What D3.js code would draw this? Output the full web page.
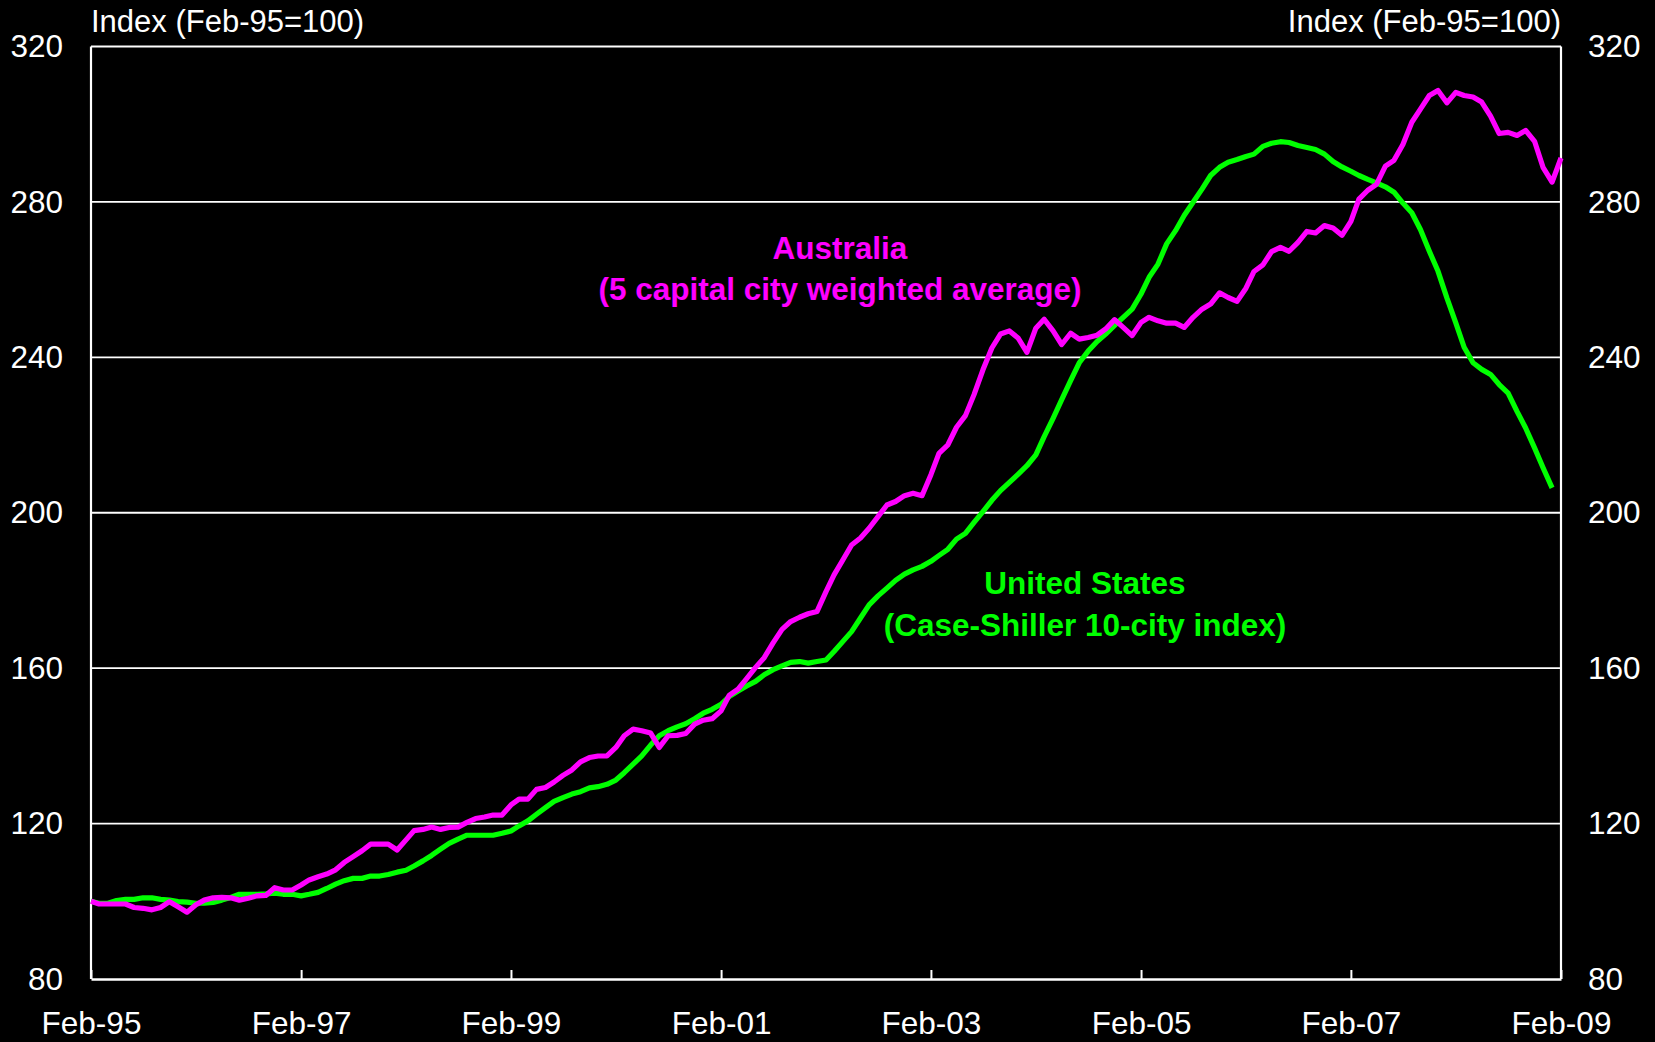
<!DOCTYPE html>
<html>
<head>
<meta charset="utf-8">
<script src="https://cdn.jsdelivr.net/npm/d3@7"></script>
<style>
  html, body { margin: 0; padding: 0; background: #000; }
  svg { display: block; }
  text { font-family: "Liberation Sans", Arial, sans-serif; }
</style>
</head>
<body>
<svg id="chart" width="1655" height="1042"></svg>
<script>
// ---- Data (monthly, starting Feb-1995) ----
const startMonth = "1995-02";
const australia = [
  100.0, 99.3, 99.3, 99.3, 99.3, 98.4, 98.2, 97.8, 98.4, 99.9, 98.6, 97.2,
  99.1, 100.3, 100.9, 101.0, 100.9, 100.3, 100.8, 101.4, 101.5, 103.5, 102.9, 102.9,
  104.2, 105.5, 106.3, 107.0, 108.1, 110.0, 111.5, 113.0, 114.7, 114.7, 114.7, 113.2,
  115.8, 118.2, 118.5, 119.1, 118.5, 119.0, 119.1, 120.3, 121.3, 121.7, 122.2, 122.2,
  124.8, 126.3, 126.3, 128.8, 129.3, 130.7, 132.4, 133.8, 135.9, 137.0, 137.4, 137.4,
  139.6, 142.6, 144.3, 143.9, 143.3, 139.6, 142.6, 142.7, 143.2, 145.6, 146.6, 147.0,
  149.0, 153.0, 154.6, 157.3, 160.2, 162.7, 166.5, 170.0, 172.0, 173.1, 174.0, 174.6,
  179.7, 184.0, 187.9, 191.7, 193.5, 196.0, 199.0, 202.0, 202.9, 204.4, 205.0, 204.4,
  209.8, 215.3, 217.5, 222.0, 225.0, 230.4, 236.8, 242.4, 246.0, 246.8, 245.0, 241.3,
  247.5, 249.8, 246.8, 243.3, 246.2, 244.7, 245.1, 245.7, 247.3, 249.7, 247.7, 245.6,
  249.0, 250.3, 249.4, 248.8, 248.8, 247.7, 250.3, 252.4, 253.7, 256.6, 255.4, 254.4,
  257.8, 262.1, 263.8, 267.2, 268.3, 267.3, 269.6, 272.4, 272.0, 273.9, 273.3, 271.4,
  275.0, 280.7, 283.0, 284.5, 289.2, 290.7, 294.8, 300.5, 303.9, 307.4, 308.7, 305.5,
  308.2, 307.4, 307.0, 305.7, 302.1, 297.6, 297.9, 297.1, 298.4, 295.6, 288.8, 285.1,
  291.3
];
const unitedStates = [
  100.0, 99.5, 99.5, 100.2, 100.5, 100.5, 100.9, 100.9, 100.5, 100.3, 99.9, 99.8,
  99.5, 99.5, 99.7, 100.3, 101.0, 101.8, 101.8, 101.8, 101.9, 102.1, 101.8, 101.8,
  101.4, 101.8, 102.3, 103.3, 104.4, 105.3, 105.9, 105.9, 106.5, 106.5, 106.9, 107.5,
  108.0, 109.1, 110.4, 111.8, 113.4, 114.9, 116.0, 117.0, 117.0, 117.0, 117.0, 117.5,
  118.1, 119.4, 120.7, 122.4, 124.1, 125.7, 126.7, 127.6, 128.2, 129.2, 129.5, 130.1,
  131.2, 133.1, 135.3, 137.4, 140.2, 142.6, 143.9, 144.9, 145.7, 147.0, 148.4, 149.4,
  150.7, 152.7, 154.1, 155.4, 156.6, 158.3, 159.6, 160.6, 161.5, 161.7, 161.3, 161.7,
  162.1, 164.3, 166.9, 169.4, 172.9, 176.3, 178.6, 180.6, 182.6, 184.2, 185.3, 186.2,
  187.5, 189.0, 190.6, 193.2, 194.7, 197.5, 200.3, 203.2, 205.7, 207.8, 209.9, 212.1,
  214.9, 219.6, 224.3, 229.1, 234.0, 238.6, 241.6, 244.1, 246.0, 248.2, 250.3, 252.4,
  256.3, 260.6, 264.0, 269.2, 272.6, 276.5, 279.9, 283.3, 286.8, 288.9, 290.2, 290.9,
  291.7, 292.3, 294.3, 295.1, 295.5, 295.3, 294.5, 294.0, 293.5, 292.3, 290.4, 289.0,
  287.9, 286.8, 285.8, 284.9, 283.9, 282.5, 279.7, 277.2, 272.9, 267.3, 262.2, 255.3,
  248.9, 242.6, 238.6, 236.9, 235.6, 233.0, 230.8, 226.1, 221.8, 216.7, 211.5, 206.4
];
const xTickLabels = ["Feb-95", "Feb-97", "Feb-99", "Feb-01", "Feb-03", "Feb-05", "Feb-07", "Feb-09"];
const yTicks = [80, 120, 160, 200, 240, 280, 320];
const axisTitle = "Index (Feb-95=100)";
const ausLabel = ["Australia", "(5 capital city weighted average)"];
const usLabel = ["United States", "(Case-Shiller 10-city index)"];

// ---- Layout ----
const L = 91, R = 1561, T = 46.5, B = 979;
const FS = 31.5;
const svg = d3.select("#chart");
const parseMonth = d3.timeParse("%Y-%m");
const start = parseMonth(startMonth);
const parseTick = d3.timeParse("%b-%y");
const tickDates = xTickLabels.map(s => parseTick(s));

const x = d3.scaleTime().domain([tickDates[0], tickDates[tickDates.length - 1]]).range([L, R]);
const y = d3.scaleLinear().domain([80, 320]).range([B, T]);

const toPoints = arr => arr.map((v, i) => ({ date: d3.timeMonth.offset(start, i), v }));

svg.append("rect").attr("width", 1655).attr("height", 1042).attr("fill", "#000");

// gridlines
svg.append("g").selectAll("line").data(yTicks.filter(t => t > 80)).join("line")
  .attr("x1", L).attr("x2", R)
  .attr("y1", d => y(d)).attr("y2", d => y(d))
  .attr("stroke", "#fff").attr("stroke-width", 1.9);

// frame: left & right vertical
svg.append("line").attr("x1", L).attr("x2", L).attr("y1", T).attr("y2", B)
  .attr("stroke", "#fff").attr("stroke-width", 2.2);
svg.append("line").attr("x1", R).attr("x2", R).attr("y1", T).attr("y2", B)
  .attr("stroke", "#fff").attr("stroke-width", 2.2);

// bottom axis
const xAxis = d3.axisBottom(x).tickValues(tickDates)
  .tickFormat((d, i) => xTickLabels[i])
  .tickSizeInner(-9).tickSizeOuter(0).tickPadding(0);
const gx = svg.append("g").attr("transform", `translate(0,${B})`).call(xAxis);
gx.select(".domain").attr("stroke", "#fff").attr("stroke-width", 2.4);
gx.selectAll(".tick line").attr("stroke", "#fff").attr("stroke-width", 2);
gx.selectAll(".tick text").attr("fill", "#fff").attr("font-size", FS)
  .attr("font-family", "'Liberation Sans', Arial, sans-serif")
  .attr("dy", null).attr("y", 55);

// left axis labels
const yLeft = d3.axisLeft(y).tickValues(yTicks).tickSize(0).tickPadding(28);
const gyl = svg.append("g").attr("transform", `translate(${L},0)`).call(yLeft);
gyl.select(".domain").remove();
gyl.selectAll(".tick text").attr("fill", "#fff").attr("font-size", FS)
  .attr("font-family", "'Liberation Sans', Arial, sans-serif");

// right axis labels
const yRight = d3.axisRight(y).tickValues(yTicks).tickSize(0).tickPadding(27);
const gyr = svg.append("g").attr("transform", `translate(${R},0)`).call(yRight);
gyr.select(".domain").remove();
gyr.selectAll(".tick text").attr("fill", "#fff").attr("font-size", FS)
  .attr("font-family", "'Liberation Sans', Arial, sans-serif");

// axis titles
svg.append("text").attr("x", L).attr("y", 32).attr("fill", "#fff")
  .attr("font-size", 31).text(axisTitle);
svg.append("text").attr("x", R).attr("y", 32).attr("fill", "#fff")
  .attr("text-anchor", "end").attr("font-size", 31).text(axisTitle);

// lines
const line = d3.line().x(d => x(d.date)).y(d => y(d.v));
svg.append("path").datum(toPoints(unitedStates)).attr("d", line)
  .attr("fill", "none").attr("stroke", "#00ff00").attr("stroke-width", 5.2)
  .attr("stroke-linejoin", "round");
svg.append("path").datum(toPoints(australia)).attr("d", line)
  .attr("fill", "none").attr("stroke", "#ff00ff").attr("stroke-width", 5.2)
  .attr("stroke-linejoin", "round");

// series labels
const ausT = svg.append("text").attr("text-anchor", "middle").attr("fill", "#ff00ff")
  .attr("font-size", FS).attr("font-weight", "bold");
ausT.append("tspan").attr("x", 840).attr("y", 259).text(ausLabel[0]);
ausT.append("tspan").attr("x", 840).attr("y", 300).text(ausLabel[1]);

const usT = svg.append("text").attr("text-anchor", "middle").attr("fill", "#00ff00")
  .attr("font-size", FS).attr("font-weight", "bold");
usT.append("tspan").attr("x", 1085).attr("y", 594).text(usLabel[0]);
usT.append("tspan").attr("x", 1085).attr("y", 636).text(usLabel[1]);
</script>
</body>
</html>
